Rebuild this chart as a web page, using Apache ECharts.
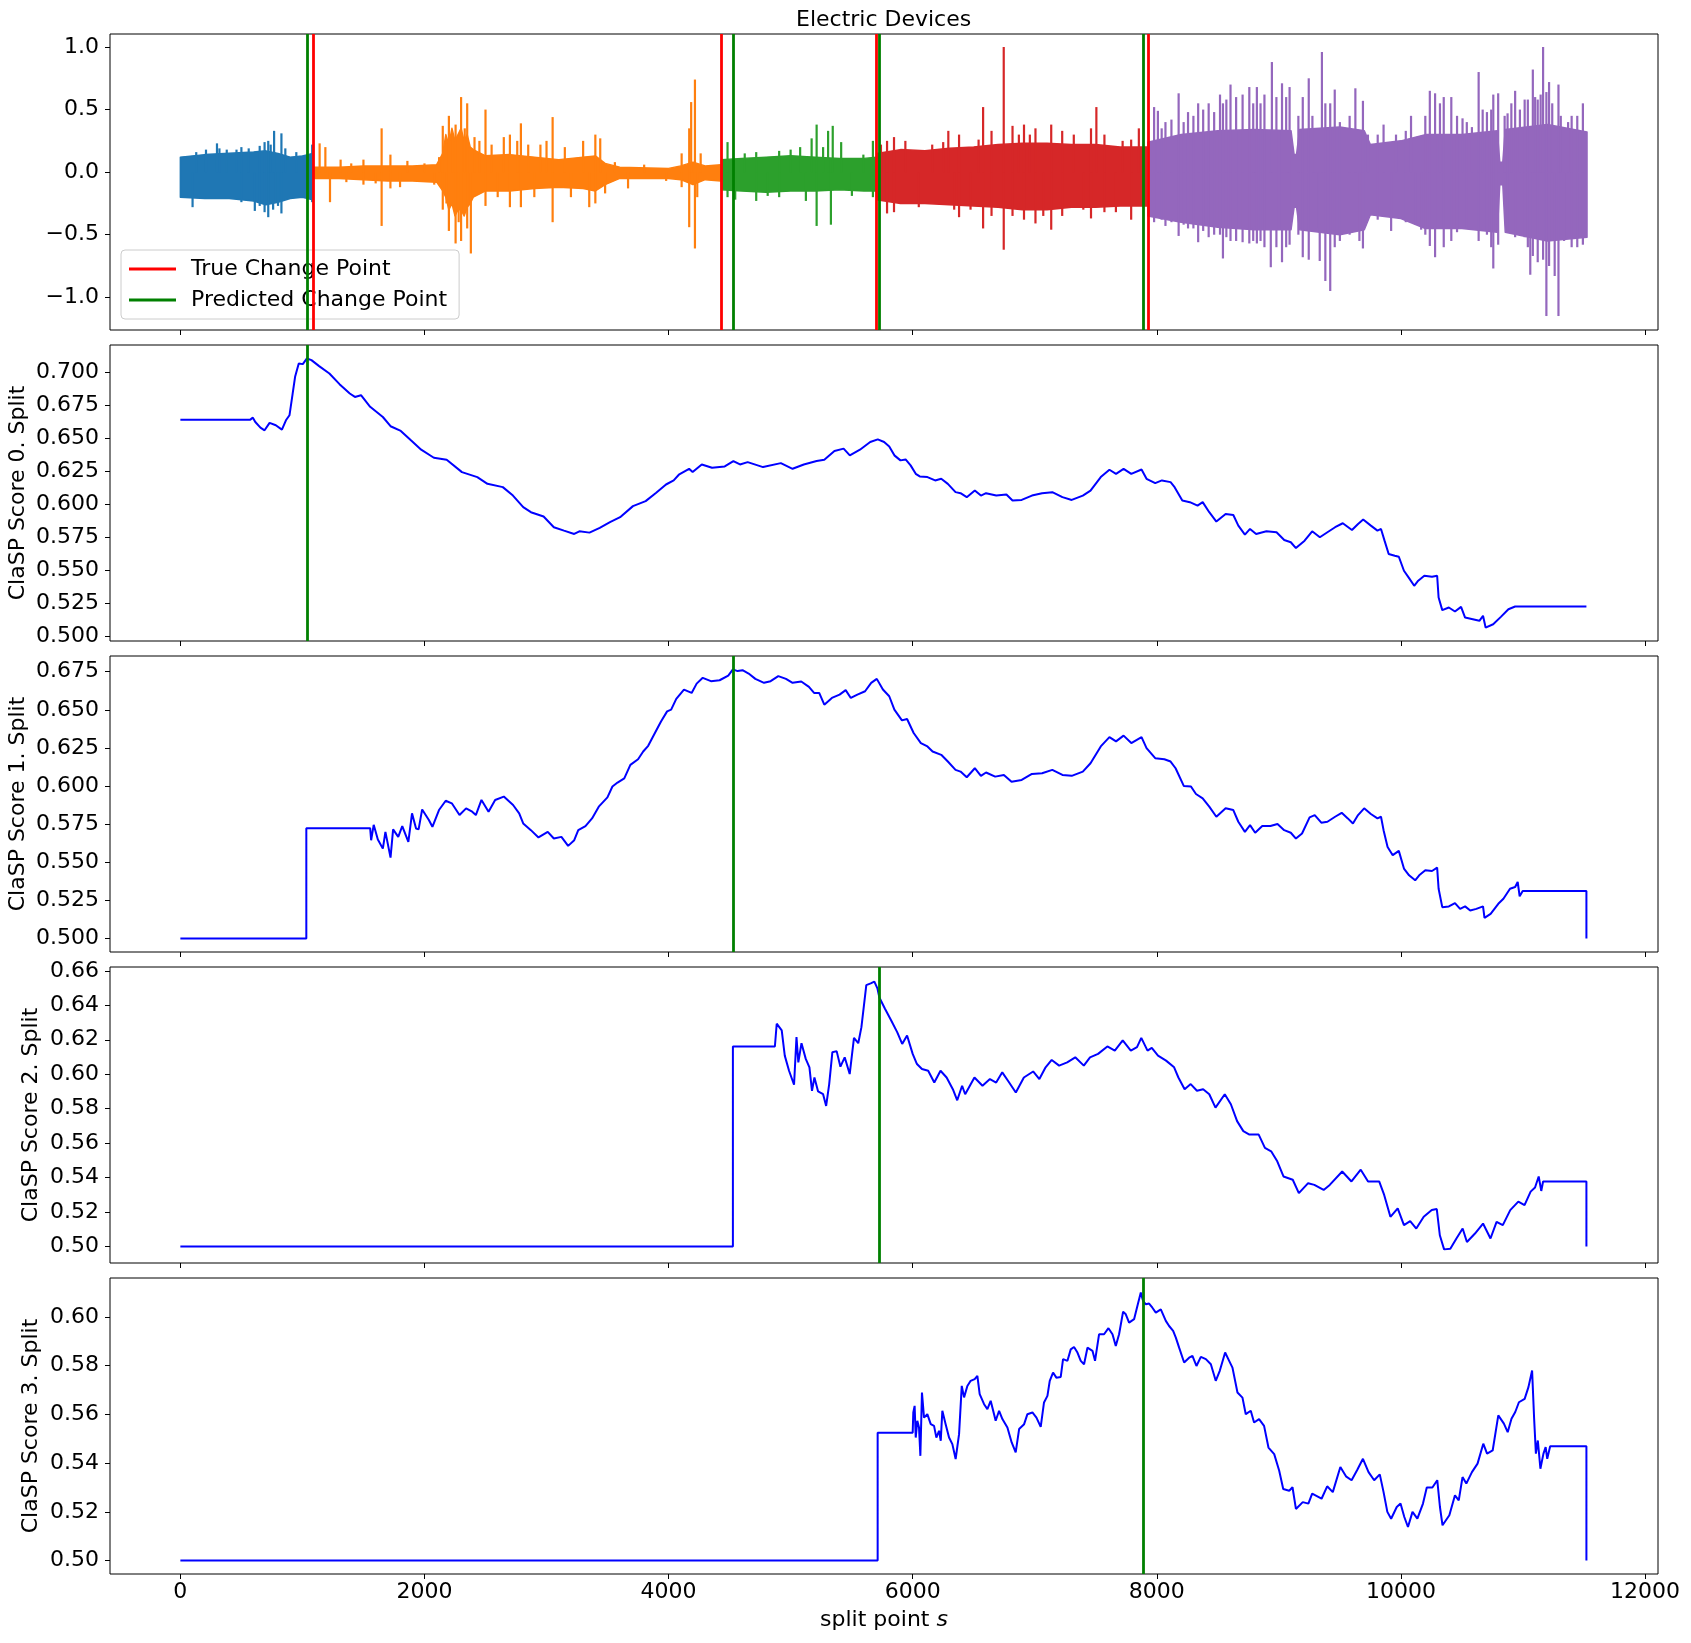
<!DOCTYPE html>
<html>
<head>
<meta charset="utf-8">
<title>Electric Devices</title>
<script src="https://cdn.jsdelivr.net/npm/echarts@6/dist/echarts.min.js"></script>
<style>
html, body { margin: 0; padding: 0; background: #fff; }
#chart { width: 1691px; height: 1643px; }
</style>
</head>
<body>
<div id="chart"></div>
<script>
// change points (split point s)
var trueCPs = [1091, 4433, 5705, 7927];
var predCPs = [1037, 4527, 5722, 7886];

// time series, read per segment: dense core band [s, upper, lower] and single spikes [s, tip]
var core0 = [[0,0.12,-0.20],[200,0.14,-0.21],[400,0.15,-0.21],[600,0.16,-0.23],[700,0.17,-0.26],[800,0.15,-0.24],[900,0.12,-0.21],[1000,0.13,-0.20],[1085,0.15,-0.22]];
var spikes0 = [[100,-0.28],[130,0.16],[210,0.18],[300,0.23],[320,0.19],[380,0.18],[460,0.18],[500,0.20],[500,-0.24],[560,0.19],[610,-0.31],[650,0.21],[650,-0.27],[690,0.24],[690,-0.32],[720,0.25],[720,-0.36],[740,0.22],[760,-0.30],[768,0.33],[800,-0.27],[828,0.31],[828,-0.33],[860,0.19],[950,0.16],[1080,0.22],[1080,-0.24]];
var core1 = [[1091,0.04,-0.05],[1300,0.04,-0.05],[1500,0.05,-0.06],[1700,0.05,-0.07],[1900,0.05,-0.07],[2100,0.06,-0.08],[2150,0.15,-0.15],[2175,0.30,-0.20],[2200,0.22,-0.30],[2225,0.35,-0.25],[2250,0.25,-0.35],[2275,0.30,-0.30],[2300,0.35,-0.30],[2325,0.25,-0.35],[2350,0.30,-0.28],[2375,0.20,-0.25],[2400,0.18,-0.20],[2500,0.13,-0.15],[2700,0.14,-0.15],[2900,0.12,-0.13],[3100,0.10,-0.12],[3300,0.12,-0.13],[3400,0.13,-0.15],[3480,0.07,-0.10],[3600,0.04,-0.05],[4000,0.03,-0.05],[4100,0.05,-0.06],[4200,0.08,-0.10],[4300,0.05,-0.06],[4428,0.06,-0.07]];
var spikes1 = [[1141,0.23],[1188,0.20],[1226,-0.24],[1313,0.10],[1360,-0.08],[1400,0.07],[1500,0.10],[1500,-0.10],[1600,-0.09],[1649,0.35],[1649,-0.43],[1721,0.14],[1721,-0.13],[1800,-0.12],[1860,0.09],[2000,0.07],[2080,-0.10],[2120,0.12],[2150,0.37],[2150,-0.30],[2180,-0.25],[2200,0.45],[2200,-0.47],[2230,0.30],[2255,0.38],[2255,-0.57],[2280,-0.40],[2300,0.60],[2300,-0.55],[2330,0.35],[2350,0.55],[2350,-0.45],[2380,-0.65],[2410,0.28],[2450,0.25],[2500,0.50],[2500,-0.27],[2550,0.22],[2600,-0.20],[2650,0.28],[2700,0.30],[2700,-0.28],[2760,0.25],[2790,0.39],[2790,-0.28],[2850,0.22],[2900,-0.20],[2950,0.22],[3000,0.25],[3050,0.44],[3050,-0.40],[3150,0.20],[3200,-0.20],[3300,0.25],[3350,-0.28],[3400,0.30],[3400,-0.25],[3440,0.27],[3480,-0.17],[3560,0.08],[3668,-0.13],[3800,0.06],[3980,-0.07],[4107,0.15],[4107,-0.12],[4169,0.35],[4169,-0.44],[4185,0.56],[4216,0.74],[4216,-0.61],[4235,-0.20],[4263,0.15]];
var core2 = [[4433,0.10,-0.14],[4600,0.11,-0.15],[4800,0.12,-0.16],[5000,0.13,-0.15],[5200,0.12,-0.15],[5400,0.11,-0.14],[5600,0.11,-0.15],[5705,0.12,-0.15]];
var spikes2 = [[4483,0.24],[4483,-0.20],[4546,-0.22],[4624,0.15],[4718,0.16],[4718,-0.23],[4812,-0.19],[4906,0.17],[4906,-0.20],[5000,0.18],[5078,0.20],[5125,-0.23],[5172,0.27],[5213,0.38],[5213,-0.43],[5266,0.20],[5307,0.33],[5330,-0.42],[5345,0.37],[5414,0.24],[5502,-0.19],[5596,0.14],[5674,0.25],[5674,-0.20]];
var core3 = [[5705,0.15,-0.22],[5900,0.18,-0.25],[6100,0.17,-0.25],[6300,0.19,-0.26],[6500,0.20,-0.27],[6700,0.22,-0.28],[6900,0.23,-0.30],[7100,0.23,-0.30],[7300,0.22,-0.28],[7500,0.22,-0.28],[7700,0.20,-0.27],[7927,0.20,-0.27]];
var spikes3 = [[5740,0.22],[5790,0.25],[5790,-0.33],[5847,0.28],[5847,-0.32],[5940,0.25],[6050,-0.28],[6160,0.22],[6250,0.24],[6292,0.33],[6340,-0.30],[6380,0.30],[6380,-0.36],[6474,-0.30],[6540,0.26],[6577,0.52],[6577,-0.45],[6646,0.33],[6646,-0.35],[6746,1.00],[6746,-0.62],[6818,0.37],[6818,-0.35],[6870,0.30],[6912,0.38],[6912,-0.38],[6960,0.30],[7006,0.35],[7006,-0.41],[7070,-0.35],[7135,0.38],[7135,-0.46],[7225,0.33],[7225,-0.35],[7320,0.30],[7398,-0.30],[7461,0.35],[7461,-0.37],[7505,0.52],[7571,0.30],[7571,-0.32],[7665,-0.32],[7720,0.25],[7790,0.26],[7790,-0.38],[7853,0.35]];
var core4 = [[7927,0.24,-0.35],[8200,0.30,-0.40],[8500,0.33,-0.44],[8800,0.34,-0.46],[9100,0.33,-0.46],[9125,0.14,-0.28],[9145,0.14,-0.28],[9170,0.34,-0.46],[9500,0.36,-0.50],[9700,0.33,-0.46],[9750,0.22,-0.34],[10000,0.25,-0.37],[10200,0.30,-0.45],[10500,0.30,-0.45],[10790,0.33,-0.48],[10810,0.08,-0.10],[10835,0.08,-0.10],[10855,0.34,-0.48],[11200,0.38,-0.55],[11525,0.32,-0.52]];
var spikes4 = [[7978,0.52],[7978,-0.40],[8009,0.49],[8040,0.35],[8040,-0.38],[8071,0.40],[8071,-0.43],[8120,0.42],[8120,-0.40],[8179,0.63],[8179,-0.51],[8220,0.40],[8220,-0.42],[8256,0.48],[8256,-0.45],[8300,0.45],[8300,-0.45],[8339,0.55],[8339,-0.56],[8380,0.50],[8380,-0.47],[8425,0.55],[8425,-0.52],[8470,0.48],[8470,-0.50],[8518,0.62],[8518,-0.50],[8542,0.55],[8542,-0.69],[8570,0.58],[8570,-0.52],[8604,0.70],[8604,-0.55],[8650,0.60],[8650,-0.55],[8703,0.62],[8703,-0.56],[8758,0.68],[8758,-0.57],[8790,0.55],[8790,-0.55],[8820,0.68],[8820,-0.57],[8850,0.55],[8850,-0.55],[8882,0.62],[8882,-0.60],[8934,-0.76],[8943,0.88],[8980,0.60],[8980,-0.60],[9026,0.71],[9026,-0.72],[9060,0.60],[9060,-0.60],[9088,0.68],[9088,-0.58],[9160,0.45],[9160,-0.50],[9196,0.60],[9196,-0.68],[9245,0.75],[9245,-0.70],[9275,0.45],[9304,-0.45],[9335,-0.71],[9353,0.96],[9381,0.55],[9381,-0.87],[9421,0.55],[9421,-0.95],[9458,0.66],[9458,-0.60],[9500,0.40],[9500,-0.55],[9580,0.45],[9580,-0.50],[9627,0.67],[9660,-0.55],[9689,0.57],[9689,-0.61],[9730,0.30],[9810,0.30],[9810,-0.38],[9858,0.38],[9920,-0.47],[9960,0.30],[10040,0.33],[10040,-0.40],[10083,0.45],[10120,-0.42],[10166,-0.46],[10200,0.45],[10200,-0.50],[10237,0.65],[10237,-0.59],[10280,0.63],[10280,-0.68],[10320,0.55],[10351,0.60],[10351,-0.60],[10413,0.60],[10413,-0.55],[10460,0.45],[10460,-0.48],[10505,0.43],[10540,0.40],[10540,-0.45],[10582,0.36],[10637,0.80],[10637,-0.55],[10670,0.50],[10705,0.48],[10705,-0.50],[10740,0.50],[10740,-0.60],[10757,0.62],[10757,-0.77],[10797,0.63],[10797,-0.58],[10850,0.45],[10874,0.47],[10874,-0.48],[10905,0.55],[10936,0.65],[10936,-0.52],[10975,0.50],[11014,0.58],[11014,-0.52],[11040,0.58],[11040,-0.60],[11060,-0.82],[11081,0.82],[11081,-0.67],[11100,0.60],[11121,0.58],[11121,-0.72],[11145,0.62],[11165,1.00],[11165,-0.70],[11192,0.64],[11192,-1.15],[11214,0.72],[11214,-0.75],[11240,0.55],[11260,-0.83],[11291,0.70],[11291,-1.15],[11310,0.45],[11337,-0.55],[11370,0.40],[11399,0.45],[11399,-0.60],[11445,0.45],[11445,-0.60],[11491,0.55],[11491,-0.58]];
var coreSegs = [core0, core1, core2, core3, core4];
var spikeSegs = [spikes0, spikes1, spikes2, spikes3, spikes4];
var segColors = ['#1f77b4', '#ff7f0e', '#2ca02c', '#d62728', '#9467bd'];

// ClaSP scores per split: [s, score]
var score0 = [[0,0.6643],[573,0.6643],[594,0.6658],[614,0.6625],[656,0.6582],[690,0.6562],[731,0.6618],[782,0.660],[832,0.6567],[865,0.6638],[894,0.6676],[920,0.6841],[940,0.6968],[970,0.7069],[1003,0.7064],[1037,0.7107],[1074,0.7094],[1137,0.7049],[1221,0.6993],[1304,0.6912],[1388,0.6841],[1430,0.6815],[1480,0.6828],[1555,0.674],[1659,0.6663],[1722,0.6593],[1806,0.6557],[1889,0.6486],[1973,0.6415],[2077,0.6354],[2182,0.6339],[2307,0.6245],[2433,0.6207],[2516,0.6156],[2642,0.6131],[2725,0.6067],[2809,0.5979],[2872,0.5941],[2976,0.5908],[3060,0.5827],[3143,0.5801],[3227,0.5776],[3269,0.5796],[3352,0.5786],[3436,0.5822],[3520,0.5865],[3603,0.5903],[3708,0.5987],[3812,0.6025],[3896,0.6086],[3979,0.6151],[4042,0.6182],[4084,0.6225],[4168,0.627],[4197,0.6245],[4272,0.6303],[4356,0.6278],[4460,0.6288],[4531,0.6329],[4585,0.6303],[4648,0.6321],[4774,0.6283],[4920,0.6313],[5016,0.627],[5108,0.6303],[5213,0.6329],[5276,0.6339],[5359,0.6405],[5434,0.6423],[5485,0.6372],[5568,0.6415],[5652,0.6473],[5714,0.6493],[5766,0.6473],[5808,0.644],[5850,0.6372],[5900,0.6334],[5942,0.6341],[5983,0.6296],[6025,0.6232],[6058,0.6212],[6121,0.6207],[6184,0.6182],[6234,0.6194],[6288,0.6156],[6351,0.6093],[6392,0.6085],[6443,0.6055],[6509,0.6105],[6559,0.6067],[6601,0.6085],[6685,0.6067],[6768,0.6075],[6818,0.6029],[6893,0.6034],[6977,0.6067],[7060,0.6085],[7144,0.6093],[7227,0.6055],[7303,0.6034],[7394,0.6067],[7457,0.6105],[7541,0.6207],[7612,0.6263],[7666,0.6232],[7728,0.627],[7791,0.6232],[7875,0.6265],[7916,0.6194],[7987,0.6161],[8042,0.6182],[8113,0.6169],[8146,0.6131],[8209,0.6029],[8271,0.6017],[8334,0.5991],[8376,0.6017],[8430,0.5941],[8488,0.587],[8564,0.5928],[8627,0.592],[8668,0.5839],[8722,0.5771],[8764,0.5814],[8814,0.5776],[8898,0.5796],[8981,0.5789],[9044,0.573],[9098,0.5713],[9140,0.5669],[9211,0.5725],[9273,0.5796],[9336,0.5751],[9398,0.5789],[9461,0.5827],[9524,0.5857],[9599,0.5806],[9649,0.5852],[9691,0.5885],[9754,0.5839],[9808,0.5801],[9837,0.5814],[9866,0.5725],[9900,0.5624],[9950,0.5611],[9983,0.5603],[10025,0.5497],[10067,0.5441],[10109,0.5383],[10142,0.5421],[10192,0.5459],[10255,0.5451],[10297,0.5459],[10309,0.5294],[10339,0.5198],[10393,0.5218],[10443,0.5188],[10493,0.5223],[10526,0.5142],[10589,0.5129],[10643,0.5117],[10673,0.5155],[10694,0.5066],[10756,0.5091],[10819,0.5147],[10881,0.5205],[10936,0.5226],[11520,0.5226]];
var score1 = [[0,0.5],[1032,0.5],[1032,0.5724],[1555,0.5724],[1563,0.5645],[1584,0.5746],[1618,0.565],[1659,0.559],[1680,0.570],[1722,0.5531],[1743,0.5716],[1785,0.5667],[1818,0.5738],[1868,0.5634],[1898,0.5821],[1931,0.5722],[1952,0.5716],[1981,0.5847],[2036,0.5777],[2065,0.5733],[2119,0.5843],[2174,0.5904],[2224,0.5887],[2287,0.581],[2341,0.5854],[2391,0.5832],[2421,0.581],[2467,0.5909],[2525,0.5832],[2579,0.5909],[2650,0.5931],[2726,0.5876],[2776,0.5821],[2809,0.5755],[2872,0.5711],[2934,0.5663],[3010,0.570],[3060,0.5656],[3122,0.5667],[3177,0.5608],[3227,0.5645],[3260,0.5711],[3319,0.5738],[3373,0.5788],[3428,0.5865],[3499,0.5926],[3540,0.5997],[3582,0.6023],[3637,0.6051],[3687,0.6139],[3750,0.6176],[3792,0.6227],[3833,0.6264],[3888,0.6348],[3938,0.6424],[3988,0.649],[4021,0.6501],[4063,0.6572],[4126,0.6633],[4189,0.6611],[4230,0.6672],[4280,0.671],[4347,0.6688],[4418,0.6694],[4489,0.6725],[4527,0.6765],[4565,0.6754],[4606,0.676],[4656,0.6738],[4711,0.6703],[4782,0.6677],[4836,0.6688],[4899,0.6721],[4962,0.6703],[5016,0.6677],[5087,0.6686],[5150,0.6651],[5192,0.6611],[5234,0.6611],[5276,0.6534],[5338,0.6578],[5401,0.66],[5451,0.6629],[5493,0.6578],[5547,0.66],[5610,0.6622],[5660,0.6677],[5706,0.6703],[5756,0.6633],[5808,0.6589],[5850,0.6501],[5912,0.6431],[5954,0.644],[6008,0.6348],[6067,0.6282],[6121,0.626],[6163,0.6227],[6234,0.6205],[6288,0.6161],[6351,0.6106],[6392,0.6095],[6443,0.6058],[6509,0.6117],[6559,0.6067],[6601,0.6089],[6676,0.6062],[6747,0.6073],[6810,0.6029],[6893,0.604],[6977,0.608],[7060,0.6084],[7144,0.6106],[7227,0.6073],[7303,0.6067],[7394,0.6095],[7457,0.615],[7541,0.626],[7612,0.6321],[7666,0.6293],[7728,0.6331],[7791,0.6282],[7875,0.6321],[7916,0.6249],[7987,0.6183],[8062,0.6176],[8113,0.6161],[8154,0.6117],[8221,0.6001],[8280,0.5997],[8321,0.5948],[8376,0.592],[8430,0.5865],[8488,0.5799],[8564,0.5854],[8627,0.5843],[8668,0.5766],[8722,0.570],[8764,0.5744],[8806,0.5694],[8864,0.5738],[8931,0.5738],[8989,0.5751],[9044,0.5711],[9098,0.5694],[9140,0.5656],[9190,0.5689],[9252,0.5795],[9294,0.581],[9348,0.576],[9398,0.5766],[9461,0.5799],[9515,0.5825],[9565,0.5788],[9607,0.5755],[9649,0.581],[9699,0.5854],[9754,0.5817],[9808,0.5788],[9837,0.5799],[9858,0.5711],[9891,0.5601],[9933,0.5547],[9983,0.5575],[10025,0.5459],[10067,0.5415],[10117,0.5382],[10150,0.5415],[10200,0.5448],[10255,0.5443],[10297,0.5465],[10309,0.5327],[10339,0.5206],[10393,0.5211],[10443,0.5233],[10485,0.5195],[10526,0.5211],[10568,0.5184],[10618,0.5195],[10673,0.5211],[10685,0.5136],[10735,0.5162],[10798,0.5228],[10840,0.5261],[10894,0.5327],[10936,0.5338],[10957,0.5371],[10973,0.5277],[10998,0.5312],[11520,0.5312],[11520,0.5]];
var score2 = [[0,0.5],[4527,0.5],[4527,0.6161],[4871,0.6161],[4886,0.6293],[4927,0.6254],[4952,0.6108],[4987,0.602],[5028,0.5939],[5048,0.6215],[5063,0.6069],[5089,0.618],[5124,0.6089],[5154,0.604],[5175,0.5904],[5195,0.5981],[5225,0.59],[5266,0.5884],[5291,0.5816],[5316,0.5943],[5342,0.6128],[5377,0.6134],[5408,0.6044],[5443,0.6098],[5484,0.6001],[5519,0.6211],[5554,0.618],[5580,0.6273],[5620,0.6517],[5656,0.6527],[5686,0.6537],[5711,0.6498],[5727,0.6445],[5772,0.6381],[5823,0.6313],[5873,0.6244],[5914,0.6176],[5954,0.6225],[6000,0.6118],[6035,0.6059],[6076,0.603],[6127,0.602],[6177,0.5952],[6228,0.602],[6278,0.5981],[6329,0.5913],[6365,0.5849],[6405,0.5933],[6430,0.5884],[6506,0.5981],[6572,0.5933],[6633,0.5972],[6684,0.5952],[6734,0.6011],[6785,0.5958],[6845,0.5894],[6911,0.5981],[6987,0.6016],[7038,0.5972],[7089,0.604],[7139,0.6083],[7200,0.605],[7266,0.6069],[7332,0.6098],[7402,0.605],[7453,0.6098],[7519,0.6118],[7595,0.6161],[7656,0.6137],[7721,0.6196],[7787,0.6137],[7838,0.6157],[7873,0.6211],[7924,0.6137],[7959,0.6153],[8010,0.6108],[8076,0.6079],[8142,0.604],[8177,0.5981],[8228,0.5913],[8278,0.5943],[8329,0.5904],[8380,0.5913],[8430,0.5884],[8481,0.5806],[8557,0.5884],[8607,0.5826],[8658,0.5728],[8709,0.567],[8759,0.565],[8835,0.565],[8886,0.5573],[8937,0.5553],[8987,0.5495],[9038,0.5407],[9114,0.5388],[9164,0.531],[9240,0.5368],[9291,0.5358],[9367,0.5329],[9417,0.5358],[9519,0.5436],[9595,0.5378],[9671,0.5446],[9731,0.5378],[9822,0.5378],[9863,0.53],[9914,0.5173],[9974,0.5222],[10025,0.5125],[10076,0.5148],[10126,0.5105],[10187,0.5173],[10253,0.5212],[10294,0.5218],[10319,0.5066],[10354,0.4984],[10405,0.4988],[10455,0.5047],[10506,0.5105],[10541,0.5027],[10607,0.5076],[10673,0.5134],[10734,0.5047],[10784,0.5144],[10835,0.5125],[10896,0.5212],[10962,0.5261],[11013,0.5241],[11063,0.5319],[11099,0.5343],[11129,0.5407],[11150,0.5323],[11165,0.5378],[11520,0.5378],[11520,0.5]];
var score3 = [[0,0.5],[5713,0.5],[5713,0.5525],[6000,0.5525],[6005,0.5608],[6016,0.5635],[6025,0.5505],[6038,0.5574],[6052,0.5546],[6063,0.543],[6076,0.569],[6093,0.5587],[6120,0.5601],[6148,0.556],[6175,0.5553],[6194,0.5505],[6216,0.5533],[6230,0.5492],[6243,0.5615],[6270,0.556],[6298,0.5505],[6325,0.5478],[6352,0.5417],[6380,0.5519],[6402,0.5717],[6421,0.567],[6448,0.5717],[6475,0.5738],[6508,0.5745],[6530,0.5758],[6549,0.5683],[6585,0.5642],[6612,0.5622],[6639,0.5656],[6680,0.5574],[6708,0.5615],[6735,0.5581],[6776,0.5546],[6811,0.5485],[6844,0.5444],[6872,0.554],[6913,0.556],[6940,0.5601],[6981,0.5608],[7014,0.5587],[7049,0.5549],[7076,0.5649],[7104,0.5676],[7123,0.5738],[7150,0.5772],[7177,0.5751],[7213,0.5754],[7232,0.5827],[7268,0.582],[7295,0.5867],[7322,0.5877],[7350,0.5854],[7377,0.582],[7404,0.5806],[7432,0.5874],[7473,0.5861],[7494,0.582],[7527,0.5929],[7568,0.5929],[7604,0.5954],[7637,0.5929],[7664,0.5881],[7691,0.5929],[7724,0.6022],[7746,0.6011],[7773,0.5977],[7814,0.5991],[7841,0.6045],[7869,0.61],[7888,0.6066],[7910,0.6052],[7937,0.6055],[7964,0.6038],[7992,0.6018],[8033,0.6031],[8074,0.5984],[8101,0.5963],[8134,0.5943],[8156,0.5915],[8183,0.5874],[8224,0.5813],[8265,0.5833],[8292,0.584],[8325,0.5799],[8361,0.5836],[8402,0.5827],[8443,0.5806],[8483,0.5738],[8516,0.5779],[8560,0.5854],[8593,0.582],[8620,0.5792],[8661,0.569],[8702,0.5669],[8729,0.5601],[8770,0.5615],[8797,0.5567],[8838,0.5581],[8879,0.5553],[8915,0.5464],[8962,0.5437],[9003,0.5369],[9036,0.5294],[9085,0.5287],[9112,0.5301],[9140,0.5212],[9196,0.524],[9242,0.5234],[9273,0.5275],[9350,0.5254],[9396,0.5305],[9442,0.5281],[9504,0.5384],[9550,0.5346],[9596,0.533],[9643,0.5373],[9689,0.5418],[9735,0.5363],[9781,0.533],[9827,0.5354],[9858,0.5281],[9889,0.520],[9920,0.5172],[9966,0.522],[9997,0.5234],[10028,0.5179],[10058,0.5138],[10095,0.520],[10135,0.5172],[10181,0.5234],[10212,0.530],[10258,0.530],[10298,0.533],[10320,0.522],[10341,0.5145],[10397,0.5186],[10443,0.5268],[10474,0.5247],[10505,0.5343],[10536,0.5316],[10582,0.5363],[10628,0.5398],[10675,0.548],[10706,0.5439],[10752,0.5452],[10798,0.5596],[10844,0.5562],[10875,0.5527],[10906,0.5582],[10937,0.561],[10967,0.565],[11014,0.5664],[11045,0.5712],[11075,0.578],[11085,0.5787],[11091,0.5589],[11106,0.5439],[11122,0.5493],[11143,0.5377],[11168,0.5439],[11186,0.5466],[11199,0.5418],[11223,0.5469],[11520,0.5469],[11520,0.5]];
var scores = [score0, score1, score2, score3];

// tick labels
var xTicks = [0, 2000, 4000, 6000, 8000, 10000, 12000];
var yTicks = [
  [-1.0, -0.5, 0.0, 0.5, 1.0],
  [0.500, 0.525, 0.550, 0.575, 0.600, 0.625, 0.650, 0.675, 0.700],
  [0.500, 0.525, 0.550, 0.575, 0.600, 0.625, 0.650, 0.675],
  [0.50, 0.52, 0.54, 0.56, 0.58, 0.60, 0.62, 0.64, 0.66],
  [0.50, 0.52, 0.54, 0.56, 0.58, 0.60]
];
var yDecimals = [1, 3, 3, 2, 2];
var yRanges = [[-1.2616, 1.104], [0.4964, 0.7209], [0.4912, 0.6853], [0.4905, 0.6622], [0.4945, 0.6160]];
var yNames = ['', 'ClaSP Score 0. Split', 'ClaSP Score 1. Split', 'ClaSP Score 2. Split', 'ClaSP Score 3. Split'];
var yNameGaps = [0, 92, 92, 79, 79];

var FONT = 'DejaVu Sans';
var gridTops = [34, 345, 656, 967, 1278];

var myChart = echarts.init(document.getElementById('chart'));

var grids = [], xAxes = [], yAxes = [];
gridTops.forEach(function (top, i) {
  grids.push({
    left: 110, top: top, width: 1548, height: 296,
    show: true, borderColor: '#000', borderWidth: 1, backgroundColor: 'transparent',
    containLabel: false, outerBoundsMode: 'none'
  });
  xAxes.push({
    type: 'value', gridIndex: i, min: -576.5, max: 12106.5, position: 'bottom',
    axisLine: { show: false, onZero: false },
    splitLine: { show: false },
    axisTick: { show: true, inside: false, length: 5, customValues: xTicks, lineStyle: { color: '#000', width: 1 } },
    axisLabel: {
      show: i === 4, customValues: xTicks, margin: 7,
      color: '#000', fontSize: 22, fontFamily: FONT,
      formatter: function (v) { return String(Math.round(v)); }
    },
    name: i === 4 ? '{a|split point }{b|s}' : '',
    nameLocation: 'middle', nameGap: 46, nameMoveOverlap: false,
    nameTextStyle: {
      color: '#000', fontSize: 22, fontFamily: FONT, verticalAlign: 'middle',
      rich: {
        a: { fontSize: 22, fontFamily: FONT, color: '#000' },
        b: { fontSize: 22, fontFamily: FONT, color: '#000', fontStyle: 'italic' }
      }
    }
  });
  yAxes.push({
    type: 'value', gridIndex: i, min: yRanges[i][0], max: yRanges[i][1], position: 'left',
    axisLine: { show: false, onZero: false },
    splitLine: { show: false },
    axisTick: { show: true, inside: false, length: 5, customValues: yTicks[i], lineStyle: { color: '#000', width: 1 } },
    axisLabel: {
      customValues: yTicks[i], margin: 11,
      color: '#000', fontSize: 22, fontFamily: FONT,
      formatter: (function (d) {
        return function (v) {
          var s = Math.abs(v).toFixed(d);
          return (v < 0 ? '\u2212' : '') + s;
        };
      })(yDecimals[i])
    },
    name: yNames[i], nameLocation: 'middle', nameRotate: 90, nameGap: yNameGaps[i], nameMoveOverlap: false,
    nameTextStyle: { color: '#000', fontSize: 22, fontFamily: FONT, align: 'center', verticalAlign: 'middle' }
  });
});

// dense core of the signal: polygon between upper and lower read-offs
function renderCore(params, api) {
  var k = api.value(2);
  var seg = coreSegs[k];
  var pts = [];
  for (var i = 0; i < seg.length; i++) pts.push(api.coord([seg[i][0], seg[i][1]]));
  for (var j = seg.length - 1; j >= 0; j--) pts.push(api.coord([seg[j][0], seg[j][2]]));
  return {
    type: 'polygon',
    shape: { points: pts },
    style: { fill: segColors[k], stroke: segColors[k], lineWidth: 1.5, lineJoin: 'round' }
  };
}

// single excursions of the signal
function renderSpike(params, api) {
  var p0 = api.coord([api.value(0), 0]);
  var p1 = api.coord([api.value(0), api.value(1)]);
  return {
    type: 'line',
    shape: { x1: p0[0], y1: p0[1], x2: p1[0], y2: p1[1] },
    style: { stroke: segColors[api.value(2)], lineWidth: 2.2 }
  };
}

var spikeData = [];
spikeSegs.forEach(function (arr, k) {
  arr.forEach(function (p) { spikeData.push([p[0], p[1], k]); });
});

function vLines(values) {
  return values.map(function (v) { return { xAxis: v }; });
}

var series = [
  {
    name: 'signal', type: 'custom', xAxisIndex: 0, yAxisIndex: 0,
    renderItem: renderCore, clip: true,
    encode: { x: 0, y: 1 },
    data: coreSegs.map(function (s, i) { return [s[0][0], 0, i]; })
  },
  {
    name: 'signal spikes', type: 'custom', xAxisIndex: 0, yAxisIndex: 0,
    renderItem: renderSpike, clip: true,
    encode: { x: 0, y: 1 },
    data: spikeData
  },
  {
    name: 'True Change Point', type: 'line', xAxisIndex: 0, yAxisIndex: 0,
    color: '#ff0000', data: [],
    markLine: {
      silent: true, symbol: ['none', 'none'], label: { show: false },
      lineStyle: { color: '#ff0000', width: 2.8, type: 'solid' },
      emphasis: { disabled: true },
      data: vLines(trueCPs)
    }
  },
  {
    name: 'Predicted Change Point', type: 'line', xAxisIndex: 0, yAxisIndex: 0,
    color: '#008000', data: [],
    markLine: {
      silent: true, symbol: ['none', 'none'], label: { show: false },
      lineStyle: { color: '#008000', width: 2.8, type: 'solid' },
      emphasis: { disabled: true },
      data: vLines(predCPs)
    }
  }
];

scores.forEach(function (sc, i) {
  series.push({
    name: 'ClaSP Score ' + i, type: 'line', xAxisIndex: i + 1, yAxisIndex: i + 1,
    data: sc, showSymbol: false, symbol: 'none',
    lineStyle: { color: '#0000ff', width: 2 }, color: '#0000ff',
    emphasis: { disabled: true },
    markLine: {
      silent: true, symbol: ['none', 'none'], label: { show: false },
      lineStyle: { color: '#008000', width: 2.8, type: 'solid' },
      emphasis: { disabled: true },
      data: vLines([predCPs[i]])
    }
  });
});

var options = {
  animation: false,
  backgroundColor: '#fff',
  title: {
    text: 'Electric Devices', left: 796, top: 9, padding: 0,
    textStyle: { color: '#000', fontSize: 22, fontWeight: 'normal', fontFamily: FONT }
  },
  legend: {
    orient: 'vertical', left: 121, top: 250,
    data: ['True Change Point', 'Predicted Change Point'],
    icon: 'rect', itemWidth: 47, itemHeight: 3, itemGap: 9,
    padding: [8, 12, 8, 8], backgroundColor: 'rgba(255,255,255,0.8)',
    borderColor: '#cccccc', borderWidth: 1, borderRadius: 4,
    selectedMode: false,
    textStyle: { color: '#000', fontSize: 22, fontFamily: FONT, padding: [0, 0, 0, 10] }
  },
  grid: grids,
  xAxis: xAxes,
  yAxis: yAxes,
  series: series
};

myChart.setOption(options);
</script>
</body>
</html>
